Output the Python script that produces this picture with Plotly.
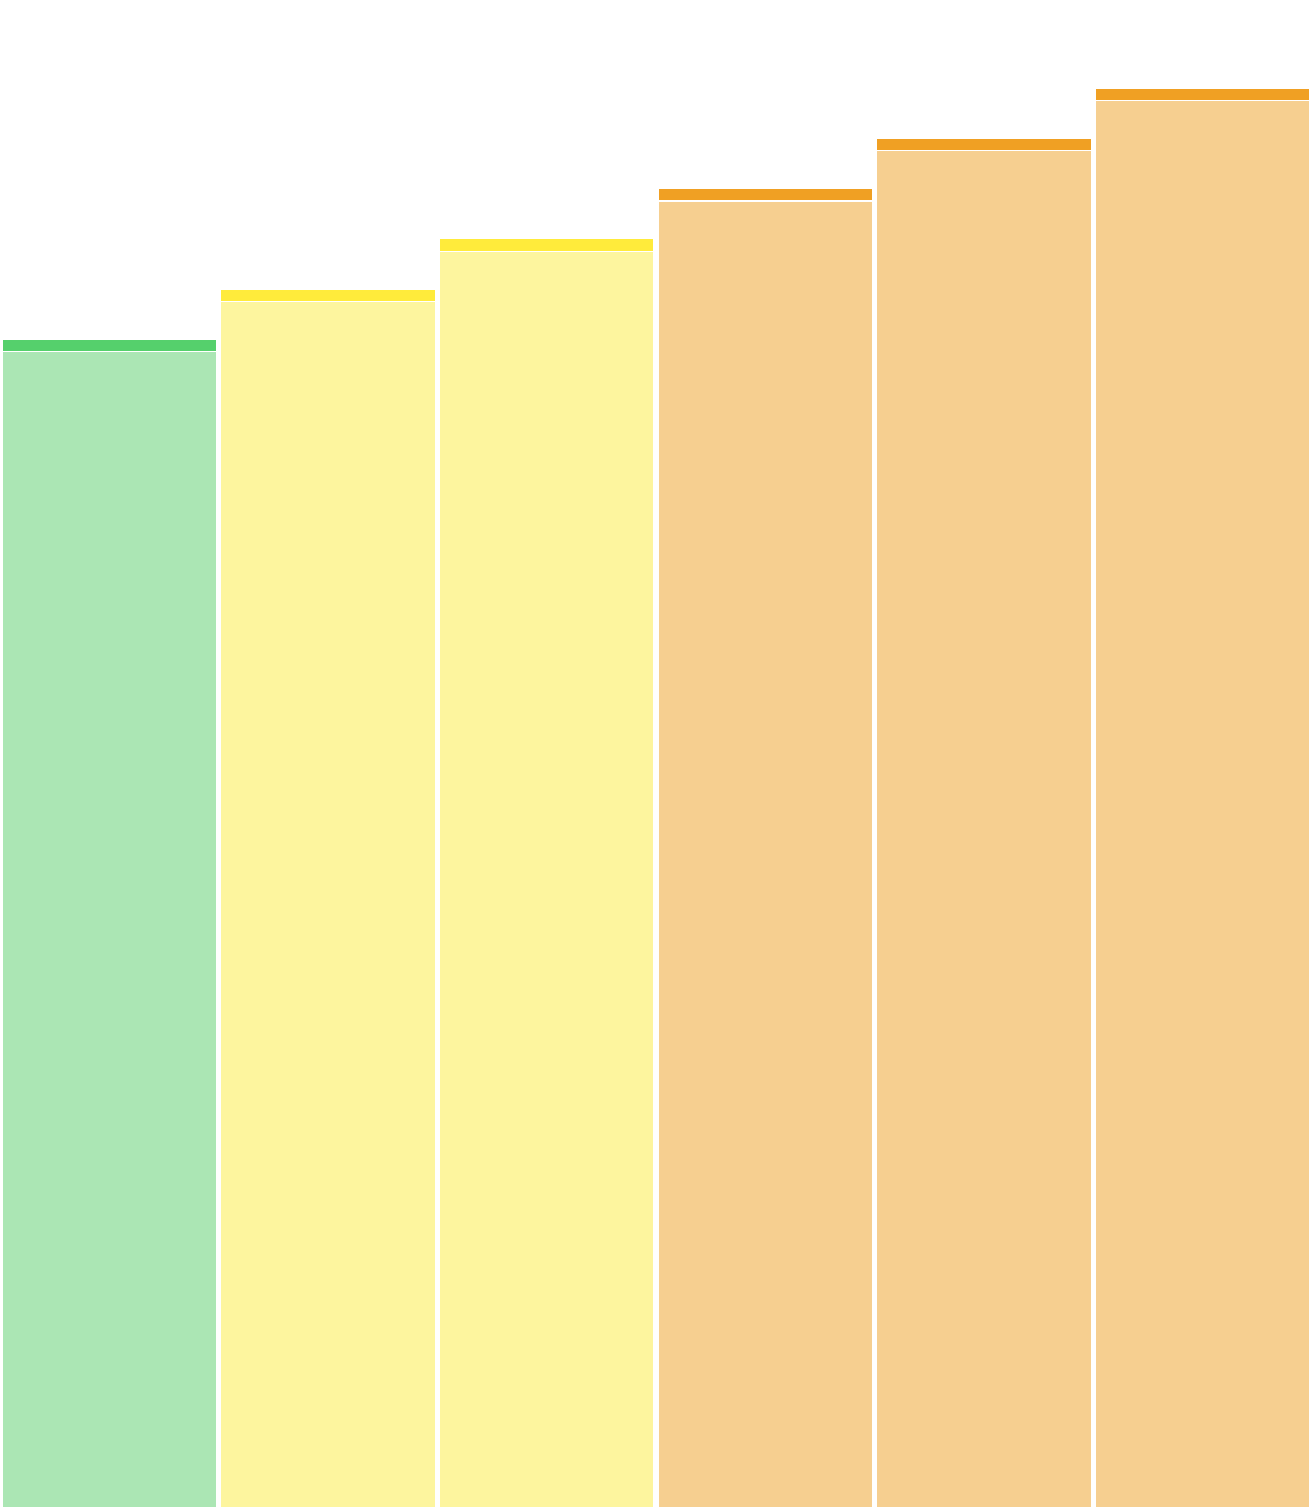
import plotly.graph_objects as go

# Dati
categorie = ["A", "B", "C", "D", "E", "F"]
valori = [23, 24, 25, 26, 27, 28]
cappello = [0.25, 0.25, 0.25, 0.25, 0.25, 0.25]

# Colori per livello
colori_chiari = ["#abe6b4", "#fdf59e", "#fdf59e", "#f6cf90", "#f6cf90", "#f6cf90"]
colori_scuri = ["#55d06c", "#ffeb3b", "#ffeb3b", "#f0a023", "#f0a023", "#f0a023"]

fig = go.Figure()
fig.add_trace(go.Bar(x=categorie, y=valori,
                     marker=dict(color=colori_chiari, line=dict(color="white", width=1.2)),
                     hoverinfo="skip"))
fig.add_trace(go.Bar(x=categorie, y=cappello,
                     marker=dict(color=colori_scuri, line=dict(color="white", width=1.2)),
                     hoverinfo="skip"))

fig.update_layout(
    barmode="stack",
    bargap=0.018,
    showlegend=False,
    width=1312, height=1508,
    margin=dict(l=0, r=0, t=0, b=0),
    plot_bgcolor="white", paper_bgcolor="white",
    xaxis=dict(visible=False),
    yaxis=dict(visible=False, range=[0, 30]),
)

# niente margine del body, il grafico parte da 0,0
fig.write_html("out.html", config={"displayModeBar": False},
               post_script="document.body.style.margin='0';document.body.style.overflow='hidden';")
